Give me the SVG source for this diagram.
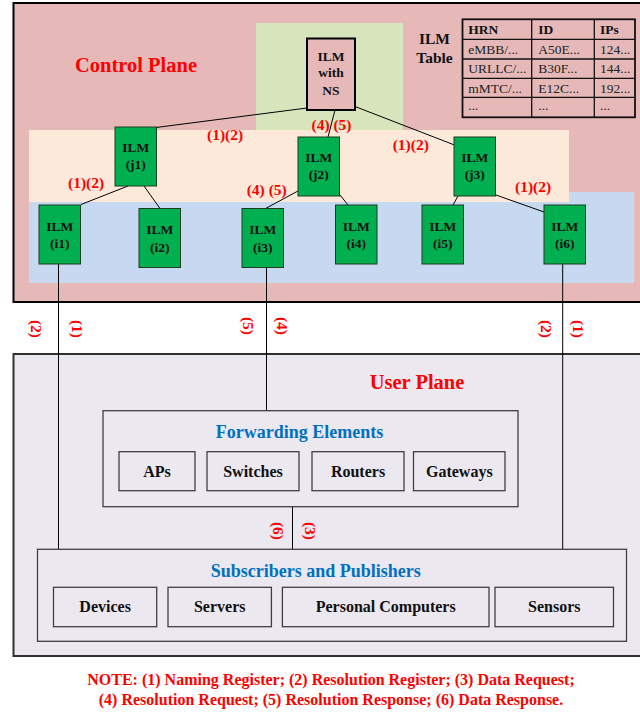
<svg xmlns="http://www.w3.org/2000/svg" width="640" height="714" viewBox="0 0 640 714">
<style>
text{font-family:"Liberation Serif","Times New Roman",serif;font-weight:bold}
.node rect{fill:#00b050;stroke:#1e3c1e;stroke-width:1}
.node text{font-size:13.5px;fill:#111;text-anchor:middle}
.red{fill:#ff0000;font-size:15.5px}
.rot{fill:#ff0000;font-size:15.5px;text-anchor:middle;dominant-baseline:central}
.box{fill:none;stroke:#404040;stroke-width:1.3}
.item text{font-size:16px;fill:#111;text-anchor:middle}
.blue{fill:#0070c0;font-size:18px;text-anchor:middle}
.tbl text{font-size:13.5px;fill:#222;font-weight:normal}
.tbl text.h{font-weight:bold;fill:#111}
#connectors line{stroke:#000;stroke-width:1}
</style>
<rect width="640" height="714" fill="#ffffff"/>
<g id="control-plane">
<rect x="13.5" y="3" width="640" height="299" fill="#e6b9b8" stroke="#000" stroke-width="2"/>
<rect x="256" y="23" width="147" height="108" fill="#d7e4bc"/>
<rect x="29" y="192" width="605" height="91" fill="#c6d9f0"/>
<rect x="29" y="130" width="540" height="72" fill="#fde9d9"/>
<text x="136" y="71.7" text-anchor="middle" style="font-size:20.5px;fill:#ff0000">Control Plane</text>
</g>
<g id="user-plane">
<rect x="13.5" y="354" width="640" height="302" fill="#ebe8f0" stroke="#303030" stroke-width="2"/>
<text x="417" y="389" text-anchor="middle" style="font-size:20.5px;fill:#ff0000">User Plane</text>
</g>
<g id="ilm-table">
<text x="434.5" y="44.3" text-anchor="middle" style="font-size:15.5px;fill:#111">ILM</text>
<text x="434.5" y="63.3" text-anchor="middle" style="font-size:15.5px;fill:#111">Table</text>
<g class="tbl">
<rect x="462.5" y="19.3" width="172.5" height="98" fill="none" stroke="#111" stroke-width="1.8"/>
<g stroke="#111" stroke-width="1.3">
<line x1="531.7" y1="19.3" x2="531.7" y2="117.3"/>
<line x1="594.3" y1="19.3" x2="594.3" y2="117.3"/>
<line x1="462.5" y1="39.3" x2="635" y2="39.3"/>
<line x1="462.5" y1="59" x2="635" y2="59"/>
<line x1="462.5" y1="78.3" x2="635" y2="78.3"/>
<line x1="462.5" y1="97.3" x2="635" y2="97.3"/>
</g>
<text class="h" x="468.3" y="34">HRN</text>
<text class="h" x="538.3" y="34">ID</text>
<text class="h" x="600" y="34">IPs</text>
<text x="468.3" y="53.7">eMBB/...</text>
<text x="538.3" y="53.7">A50E...</text>
<text x="600" y="53.7">124...</text>
<text x="468.3" y="73.3">URLLC/...</text>
<text x="538.3" y="73.3">B30F...</text>
<text x="600" y="73.3">144...</text>
<text x="468.3" y="92.7">mMTC/...</text>
<text x="538.3" y="92.7">E12C...</text>
<text x="600" y="92.7">192...</text>
<text x="468.3" y="110">...</text>
<text x="538.3" y="110">...</text>
<text x="600" y="110">...</text>
</g>
</g>
<g id="connectors">
<line x1="307" y1="108" x2="156" y2="127.5"/>
<line x1="335" y1="110" x2="328" y2="137"/>
<line x1="355" y1="106.5" x2="454.5" y2="145"/>
<line x1="128" y1="186" x2="81" y2="204.5"/>
<line x1="144" y1="186" x2="160" y2="208.5"/>
<line x1="298" y1="191" x2="265.5" y2="208.5"/>
<line x1="340" y1="195" x2="348" y2="205"/>
<line x1="458" y1="196" x2="453" y2="205"/>
<line x1="496" y1="195" x2="544" y2="212"/>
<line x1="58.5" y1="264" x2="58.5" y2="549.3"/>
<line x1="266.5" y1="267.7" x2="266.5" y2="410.7"/>
<line x1="562.7" y1="264" x2="562.7" y2="549.3"/>
<line x1="292.5" y1="506.7" x2="292.5" y2="549.3"/>
</g>
<g id="labels">
<text class="red" x="207" y="140">(1)(2)</text>
<text class="red" x="311.5" y="130">(4) (5)</text>
<text class="red" x="392.7" y="150">(1)(2)</text>
<text class="red" x="68" y="188">(1)(2)</text>
<text class="red" x="246.7" y="195">(4) (5)</text>
<text class="red" x="515" y="191.7">(1)(2)</text>
<text class="rot" x="36.5" y="329" transform="rotate(90 36.5 329)">(2)</text>
<text class="rot" x="77.5" y="329" transform="rotate(90 77.5 329)">(1)</text>
<text class="rot" x="248" y="326" transform="rotate(90 248 326)">(5)</text>
<text class="rot" x="282" y="326" transform="rotate(90 282 326)">(4)</text>
<text class="rot" x="546" y="329" transform="rotate(90 546 329)">(2)</text>
<text class="rot" x="578.5" y="329" transform="rotate(90 578.5 329)">(1)</text>
<text class="rot" x="278.3" y="531" transform="rotate(90 278.3 531)">(6)</text>
<text class="rot" x="310.5" y="531" transform="rotate(90 310.5 531)">(3)</text>
</g>
<g id="ilm-ns">
<rect x="307" y="38.5" width="48" height="71.5" fill="#e6b9b8" stroke="#000" stroke-width="2"/>
<text x="331" y="61" text-anchor="middle" style="font-size:13.5px;fill:#111">ILM</text>
<text x="331" y="77" text-anchor="middle" style="font-size:13.5px;fill:#111">with</text>
<text x="331" y="94.5" text-anchor="middle" style="font-size:13.5px;fill:#111">NS</text>
</g>
<g id="ilm-j1" class="node"><rect x="115" y="127" width="41.5" height="59"/><text x="135.75" y="151.7">ILM</text><text x="135.75" y="169.3">(j1)</text></g>
<g id="ilm-j2" class="node"><rect x="298" y="137" width="41.5" height="59"/><text x="318.75" y="161.7">ILM</text><text x="318.75" y="179.3">(j2)</text></g>
<g id="ilm-j3" class="node"><rect x="454" y="137" width="41.5" height="59"/><text x="474.75" y="161.7">ILM</text><text x="474.75" y="179.3">(j3)</text></g>
<g id="ilm-i1" class="node"><rect x="39" y="205" width="41.5" height="59"/><text x="59.75" y="230.7">ILM</text><text x="59.75" y="248.3">(i1)</text></g>
<g id="ilm-i2" class="node"><rect x="139" y="208.5" width="41.5" height="59"/><text x="159.75" y="234.2">ILM</text><text x="159.75" y="251.8">(i2)</text></g>
<g id="ilm-i3" class="node"><rect x="242" y="208.5" width="41.5" height="59"/><text x="262.75" y="234.2">ILM</text><text x="262.75" y="251.8">(i3)</text></g>
<g id="ilm-i4" class="node"><rect x="335.5" y="205" width="41.5" height="59"/><text x="356.25" y="230.7">ILM</text><text x="356.25" y="248.3">(i4)</text></g>
<g id="ilm-i5" class="node"><rect x="422" y="205" width="41.5" height="59"/><text x="442.75" y="230.7">ILM</text><text x="442.75" y="248.3">(i5)</text></g>
<g id="ilm-i6" class="node"><rect x="544" y="205" width="41.5" height="59"/><text x="564.75" y="230.7">ILM</text><text x="564.75" y="248.3">(i6)</text></g>
<g id="forwarding-elements">
<rect class="box" x="103" y="410.7" width="415" height="96"/>
<text class="blue" x="299.6" y="438">Forwarding Elements</text>
<g class="item">
<rect class="box" x="119" y="451.7" width="76" height="39"/><text x="157" y="476.7">APs</text>
<rect class="box" x="207" y="451.7" width="92" height="39"/><text x="253" y="476.7">Switches</text>
<rect class="box" x="312" y="451.7" width="92" height="39"/><text x="358" y="476.7">Routers</text>
<rect class="box" x="413.5" y="451.7" width="91.5" height="39"/><text x="459.3" y="476.7">Gateways</text>
</g>
</g>
<g id="subscribers-publishers">
<rect class="box" x="37.5" y="549.3" width="589" height="92"/>
<text class="blue" x="315.7" y="576.7">Subscribers and Publishers</text>
<g class="item">
<rect class="box" x="53.5" y="587.3" width="103.2" height="39.4"/><text x="105.1" y="611.7">Devices</text>
<rect class="box" x="168" y="587.3" width="103.4" height="39.4"/><text x="219.7" y="611.7">Servers</text>
<rect class="box" x="282.4" y="587.3" width="206.6" height="39.4"/><text x="385.7" y="611.7">Personal Computers</text>
<rect class="box" x="495" y="587.3" width="118.5" height="39.4"/><text x="554.3" y="611.7">Sensors</text>
</g>
</g>
<g id="note">
<text x="331" y="684.5" text-anchor="middle" style="font-size:16px;fill:#ff0000">NOTE: (1) Naming Register; (2) Resolution Register; (3) Data Request;</text>
<text x="331" y="704.5" text-anchor="middle" style="font-size:16px;fill:#ff0000">(4) Resolution Request; (5) Resolution Response; (6) Data Response.</text>
</g>
</svg>
